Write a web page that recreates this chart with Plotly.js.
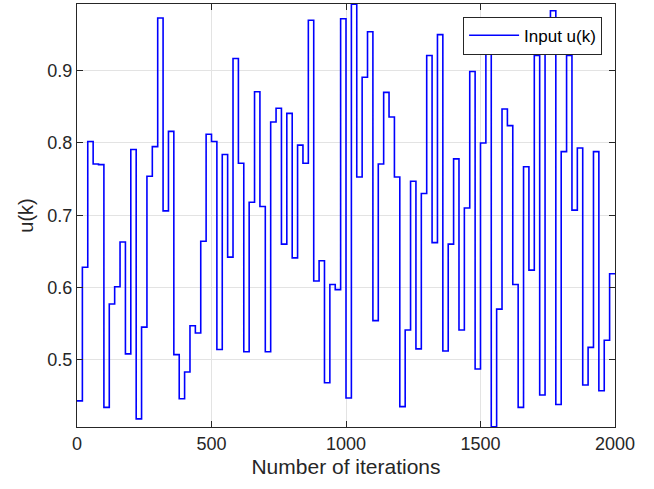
<!DOCTYPE html>
<html>
<head>
<meta charset="utf-8">
<script src="https://cdn.plot.ly/plotly-3.0.1.min.js"></script>
<style>html,body{margin:0;padding:0;background:#fff;}#chart{width:654px;height:489px;}</style>
</head>
<body>
<div id="chart"></div>
<script>
// step length in iterations (each value is held for this many iterations)
const stepLength = 20;
// held input values, one per step
const inputValues = [
  0.443, 0.628, 0.802, 0.771, 0.770, 0.434, 0.577, 0.601, 0.663, 0.508,
  0.791, 0.418, 0.545, 0.754, 0.795, 0.973, 0.706, 0.816, 0.507, 0.446,
  0.483, 0.547, 0.537, 0.664, 0.812, 0.802, 0.514, 0.784, 0.642, 0.917,
  0.772, 0.511, 0.718, 0.871, 0.712, 0.511, 0.829, 0.848, 0.660, 0.841,
  0.641, 0.797, 0.772, 0.970, 0.609, 0.637, 0.468, 0.604, 0.597, 0.972,
  0.447, 0.992, 0.753, 0.891, 0.954, 0.554, 0.771, 0.870, 0.836, 0.753,
  0.435, 0.541, 0.747, 0.515, 0.730, 0.921, 0.662, 0.950, 0.512, 0.660,
  0.778, 0.541, 0.710, 0.899, 0.487, 0.800, 0.962, 0.407, 0.570, 0.847,
  0.824, 0.604, 0.434, 0.767, 0.624, 0.921, 0.451, 0.966, 0.983, 0.438,
  0.788, 0.921, 0.707, 0.793, 0.465, 0.517, 0.788, 0.457, 0.527, 0.619
];
const xTickVals = [0, 500, 1000, 1500, 2000];
const xTickText = ['0', '500', '1000', '1500', '2000'];
const yTickVals = [0.5, 0.6, 0.7, 0.8, 0.9];
const yTickText = ['0.5', '0.6', '0.7', '0.8', '0.9'];
const seriesName = 'Input u(k)';

// stairs: each value starts at its step index, last value held to the end
const xs = inputValues.map((v, i) => i * stepLength);
xs.push(inputValues.length * stepLength);
const ys = inputValues.slice();
ys.push(inputValues[inputValues.length - 1]);

const axisColor = '#262626';
const gridColor = '#e3e3e3';
const fontFam = 'Liberation Sans, Arial, Helvetica, sans-serif';

const trace = {
  x: xs, y: ys, type: 'scatter', mode: 'lines',
  line: {shape: 'hv', color: '#0000ff', width: 1.6},
  name: seriesName, showlegend: true
};

const layout = {
  width: 654, height: 489,
  margin: {l: 77, r: 39, t: 4, b: 62, pad: 0},
  paper_bgcolor: '#ffffff', plot_bgcolor: '#ffffff',
  font: {family: fontFam, color: axisColor, size: 18},
  showlegend: true,
  legend: {
    x: 0.976, y: 0.97, xanchor: 'right', yanchor: 'top',
    bgcolor: '#ffffff', bordercolor: axisColor, borderwidth: 1,
    font: {family: fontFam, size: 17, color: '#000000'},
    itemwidth: 50
  },
  xaxis: {
    range: [0, 2000], tickvals: xTickVals, ticktext: xTickText,
    ticks: 'inside', ticklen: 6, tickwidth: 1, tickcolor: axisColor,
    showline: true, linecolor: axisColor, linewidth: 1, mirror: 'ticks',
    showgrid: true, gridcolor: gridColor, gridwidth: 1, zeroline: false,
    tickfont: {size: 18, color: axisColor, family: fontFam},
    title: {text: 'Number of iterations', font: {size: 21, color: axisColor, family: fontFam}, standoff: 6},
    automargin: false
  },
  yaxis: {
    range: [0.4068, 0.9924], tickvals: yTickVals, ticktext: yTickText,
    ticks: 'inside', ticklen: 6, tickwidth: 1, tickcolor: axisColor,
    showline: true, linecolor: axisColor, linewidth: 1, mirror: 'ticks',
    showgrid: true, gridcolor: gridColor, gridwidth: 1, zeroline: false,
    tickfont: {size: 18, color: axisColor, family: fontFam},
    title: {text: 'u(k)', font: {size: 20, color: axisColor, family: fontFam}, standoff: 8},
    automargin: false
  }
};

Plotly.newPlot('chart', [trace], layout, {displayModeBar: false, staticPlot: true});
</script>
</body>
</html>
